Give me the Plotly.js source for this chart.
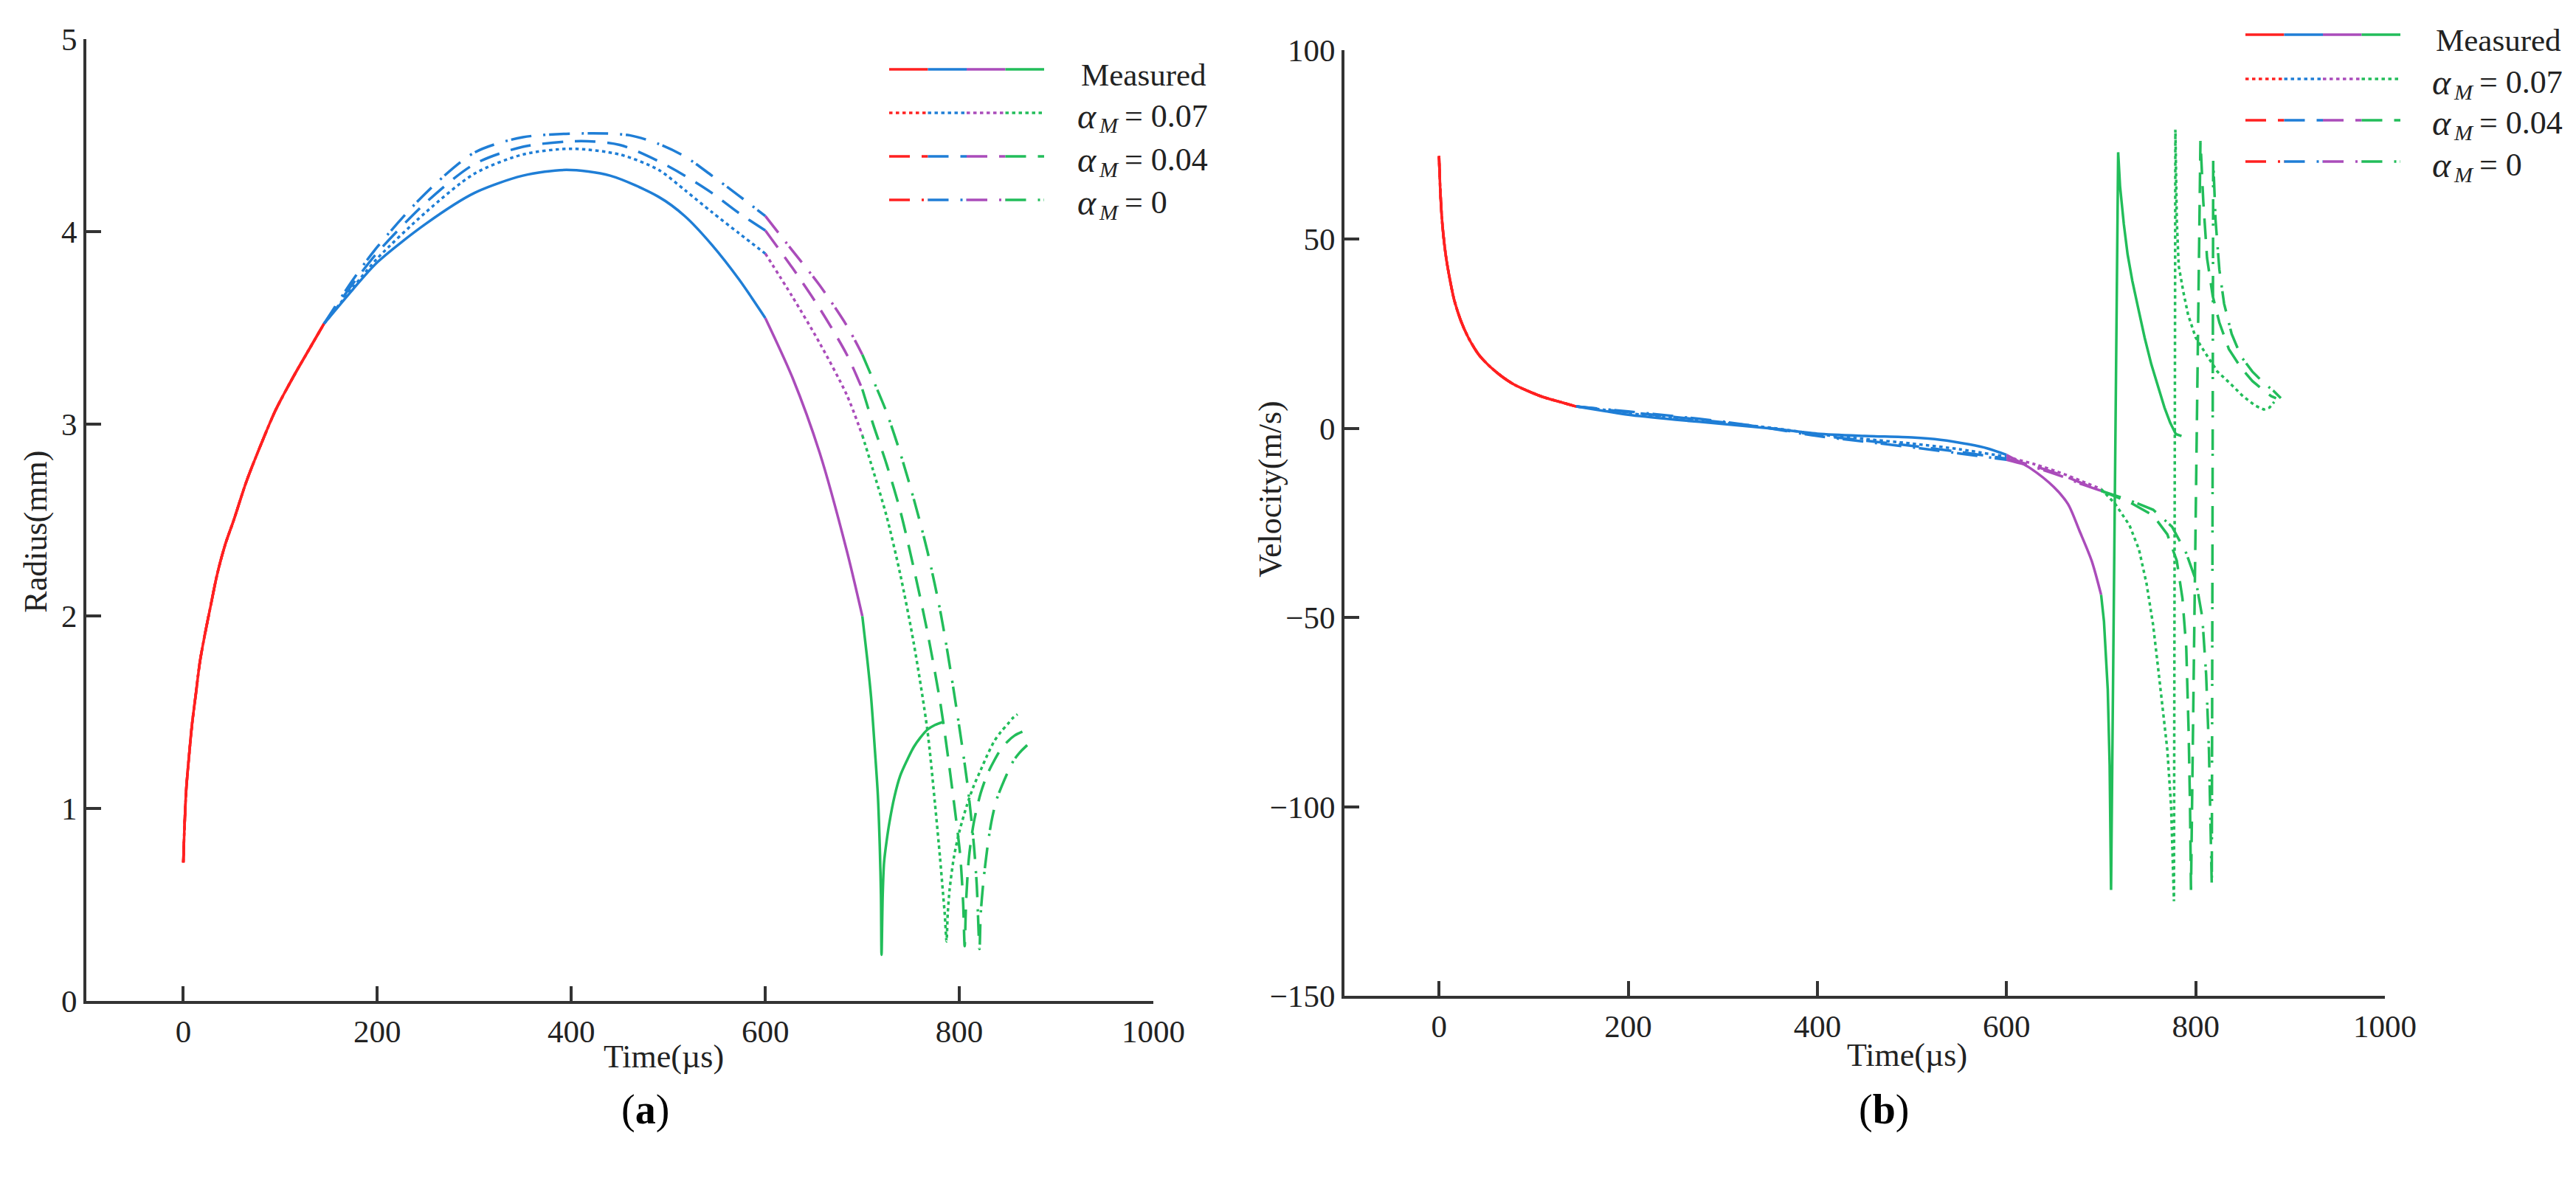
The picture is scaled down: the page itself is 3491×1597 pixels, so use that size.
<!DOCTYPE html>
<html>
<head>
<meta charset="utf-8">
<script src="https://cdn.plot.ly/plotly-3.0.1.min.js"></script>
<style>
  html, body { margin: 0; padding: 0; background: #fff; }
  #chart { width: 3491px; height: 1597px; }
</style>
</head>
<body>
<div id="chart"></div>
<script>
/* -----------------Radius data (panel a)--------------------------------------------*/
// shared early part, same for all runs (red)
var timeEarly = [0, 1, 3, 6, 9, 13, 17, 22, 28, 35, 43, 52, 65, 79, 95, 114, 130, 145];
var radiusEarly = [0.72, 0.88, 1.10, 1.28, 1.44, 1.60, 1.76, 1.90, 2.05, 2.22, 2.37, 2.50, 2.70, 2.88, 3.07, 3.25, 3.39, 3.52];

var timeMeas = [175, 200, 250, 300, 350, 395, 440, 490, 517, 545, 573, 600, 628, 656, 684, 700, 705, 709, 713, 716, 718, 719.2, 719.8, 721, 722.4, 725, 728, 733, 739, 746, 753, 760, 767, 775, 783];
var radiusMeas = [3.70, 3.84, 4.04, 4.20, 4.29, 4.32, 4.29, 4.18, 4.08, 3.93, 3.75, 3.55, 3.24, 2.85, 2.34, 2.00, 1.78, 1.58, 1.30, 1.07, 0.80, 0.55, 0.24, 0.55, 0.72, 0.83, 0.93, 1.06, 1.17, 1.25, 1.32, 1.37, 1.41, 1.435, 1.45];

var timeA07 = [175, 200, 250, 300, 350, 400, 450, 490, 517, 545, 573, 600, 628, 656, 684, 700, 711, 725, 739, 753, 767, 775, 780, 783, 785, 786.8, 788, 790, 794.5, 800, 808, 815, 822, 829, 836, 843, 850, 855, 860];
var radiusA07 = [3.71, 3.86, 4.10, 4.30, 4.40, 4.43, 4.40, 4.32, 4.215, 4.10, 3.99, 3.885, 3.66, 3.42, 3.15, 2.94, 2.76, 2.52, 2.22, 1.86, 1.41, 1.02, 0.75, 0.57, 0.45, 0.31, 0.45, 0.58, 0.75, 0.88, 1.02, 1.12, 1.20, 1.28, 1.35, 1.40, 1.44, 1.47, 1.49];

var timeA04 = [175, 200, 250, 300, 350, 410, 450, 490, 517, 545, 573, 600, 628, 656, 684, 700, 711, 725, 739, 753, 767, 781, 794, 801, 804, 805.5, 807, 810, 815, 822, 829, 836, 843, 850, 857, 865];
var radiusA04 = [3.73, 3.89, 4.15, 4.35, 4.44, 4.47, 4.45, 4.365, 4.29, 4.20, 4.095, 4.005, 3.81, 3.60, 3.36, 3.18, 3.00, 2.79, 2.55, 2.25, 1.92, 1.53, 1.05, 0.75, 0.50, 0.285, 0.52, 0.75, 0.93, 1.08, 1.18, 1.25, 1.31, 1.35, 1.38, 1.40];

var timeA0 = [175, 200, 250, 300, 350, 420, 460, 490, 517, 545, 573, 600, 628, 656, 684, 700, 711, 725, 739, 753, 767, 781, 794, 808, 815, 818, 820.8, 822, 825, 829, 833, 838, 844, 850, 856, 862, 870];
var radiusA0 = [3.75, 3.92, 4.20, 4.41, 4.49, 4.51, 4.50, 4.455, 4.39, 4.29, 4.185, 4.08, 3.90, 3.72, 3.51, 3.36, 3.23, 3.06, 2.85, 2.61, 2.34, 2.01, 1.62, 1.14, 0.81, 0.60, 0.27, 0.45, 0.63, 0.80, 0.93, 1.04, 1.12, 1.19, 1.25, 1.29, 1.33];
/* -----------------------------------------------------------------------------------*/

/* -----------------Velocity data (panel b)-----------------------------------------*/
var vTimeEarly = [0, 1.5, 3.5, 7, 11, 16, 23, 31, 42, 52, 65, 80, 95, 110, 128, 145];
var velEarly = [72, 62, 54, 46, 40, 34, 28.5, 24, 19.5, 16.8, 14, 11.5, 9.8, 8.3, 7, 5.8];

var vTimeMeas = [175, 200, 250, 300, 350, 400, 450, 500, 530, 560, 580, 600, 625, 650, 665, 677, 690, 700, 703, 707, 709, 710.5, 718, 720, 724, 728, 733, 739, 746, 753, 760, 767, 773, 779, 785];
var velMeas = [4.6, 3.6, 2.3, 1.2, 0.0, -1.4, -2.0, -2.4, -3.0, -4.2, -5.3, -7.0, -10.5, -15.5, -20, -27, -35, -44, -51, -69, -89, -122, 73, 64, 54, 46, 39, 32, 24, 17, 11, 5.5, 1.5, -1.5, -2];

var vTimeA07 = [175, 200, 250, 300, 350, 400, 450, 500, 550, 600, 630, 660, 680, 700, 715, 730, 740, 748, 755, 761, 766, 770, 774, 777, 778.5, 780, 782, 787, 792, 800, 810, 823, 836, 850, 863, 872, 878, 883];
var velA07 = [4.9, 4.0, 2.8, 1.5, 0.2, -1.5, -2.8, -4.0, -5.5, -7.5, -9.5, -12, -14, -16, -20, -25.6, -32, -41, -52, -65, -77, -85, -100, -125, 79, 55, 43, 36, 30, 24, 20, 15, 12, 8.5, 6, 5, 5.5, 7];

var vTimeA04 = [175, 200, 250, 300, 350, 400, 450, 500, 550, 600, 630, 660, 680, 700, 730, 755, 770, 780, 786, 790, 792.5, 794, 795, 805, 808, 812, 818, 825, 835, 848, 860, 872, 880, 885];
var velA04 = [5.0, 4.3, 3.0, 1.6, 0.1, -1.8, -3.2, -4.6, -6.2, -8.0, -10, -12.5, -14.5, -16.5, -19.5, -23, -28, -35, -45, -58, -80, -100, -122, 76, 60, 45, 35, 28, 21, 16, 12.5, 10, 8.5, 8];

var vTimeA0 = [175, 200, 250, 300, 350, 400, 450, 500, 550, 600, 630, 660, 680, 700, 730, 755, 775, 790, 800, 807, 811, 814, 816, 817, 818.5, 821, 825, 830, 838, 848, 860, 872, 882, 890];
var velA0 = [5.1, 4.5, 3.2, 1.8, 0.0, -2.0, -3.5, -5.0, -6.6, -8.3, -10.3, -12.8, -14.8, -16.5, -19, -21.5, -26, -33, -40, -50, -65, -85, -105, -121, 71, 55, 42, 33, 25, 19, 15, 12, 10, 8];
/* -----------------------------------------------------------------------------------*/

var xTicks = [0, 200, 400, 600, 800, 1000];
var radiusTicks = [0, 1, 2, 3, 4, 5];
var velTicks = [-150, -100, -50, 0, 50, 100];
var stageEdges = [145, 600, 700];          // colour changes along each curve
var legendNames = ['Measured', '0.07', '0.04', '0'];

var RED = '#ff2020', BLUE = '#1f7ed6', MAGENTA = '#aa4cba', GREEN = '#22bd5a';
var stageColors = [RED, BLUE, MAGENTA, GREEN];
var dashes = ['solid', '4.5px,4.5px', '28px,16px', '28px,16px,3px,5px'];
var FONT = '"Liberation Serif", "Times New Roman", serif';
var W = 3491, H = 1597;

/* ---------------split a curve into its four coloured stages---------------------*/
function stages(t, y) {
  var bounds = [-Infinity].concat(stageEdges).concat([Infinity]);
  var out = [];
  for (var k = 0; k < 4; k++) {
    var xs = [], ys = [];
    for (var i = 0; i < t.length; i++) {
      if (t[i] >= bounds[k] && t[i] <= bounds[k + 1]) {
        xs.push(t[i]);
        ys.push(y[i]);
      }
    }
    out.push({x: xs, y: ys});
  }
  return out;
}

var data = [];
// smoothGreen: the radius cusps stay fine with a spline, the velocity spikes do not
function addCurve(t, y, dash, xa, ya, smoothGreen) {
  var parts = stages(t, y);
  for (var k = 0; k < parts.length; k++) {
    var smooth = (k < 3 || smoothGreen);
    data.push({
      x: parts[k].x,
      y: parts[k].y,
      xaxis: xa,
      yaxis: ya,
      type: 'scatter',
      mode: 'lines',
      hoverinfo: 'skip',
      showlegend: false,
      line: {color: stageColors[k], width: 3.5, dash: dash,
             shape: smooth ? 'spline' : 'linear', smoothing: 0.8}
    });
  }
}

var radiusSeries = [
  [timeEarly.concat(timeMeas), radiusEarly.concat(radiusMeas)],
  [timeEarly.concat(timeA07), radiusEarly.concat(radiusA07)],
  [timeEarly.concat(timeA04), radiusEarly.concat(radiusA04)],
  [timeEarly.concat(timeA0), radiusEarly.concat(radiusA0)]
];
var velSeries = [
  [vTimeEarly.concat(vTimeMeas), velEarly.concat(velMeas)],
  [vTimeEarly.concat(vTimeA07), velEarly.concat(velA07)],
  [vTimeEarly.concat(vTimeA04), velEarly.concat(velA04)],
  [vTimeEarly.concat(vTimeA0), velEarly.concat(velA0)]
];
// simulations first, measured on top
for (var s = 3; s >= 0; s--) {
  addCurve(radiusSeries[s][0], radiusSeries[s][1], dashes[s], 'x', 'y', true);
  addCurve(velSeries[s][0], velSeries[s][1], dashes[s], 'x2', 'y2', false);
}

/* ---------------hand drawn legends (multi coloured keys)---------------------------*/
var shapes = [];
var annotations = [];
function label(px, py, text, size, style) {
  annotations.push({
    xref: 'paper', yref: 'paper',
    x: px / W, y: 1 - py / H,
    xanchor: 'left', yanchor: 'middle',
    text: text, showarrow: false,
    font: {family: FONT, size: size, color: '#222', style: style || 'normal'}
  });
}
function addLegend(x0, rowsY, textX) {
  var seg = 52.5;
  for (var k = 0; k < 4; k++) {
    for (var c = 0; c < 4; c++) {
      shapes.push({
        type: 'line', xref: 'paper', yref: 'paper',
        x0: (x0 + c * seg) / W, x1: (x0 + (c + 1) * seg) / W,
        y0: 1 - rowsY[k] / H, y1: 1 - rowsY[k] / H,
        line: {color: stageColors[c], width: 3.5, dash: dashes[k]}
      });
    }
    if (k === 0) {
      label(textX + 3, rowsY[k] + 7, legendNames[0], 43);
    } else {
      // alpha with italic M subscript, then "= value"
      label(textX - 2, rowsY[k] + 4, 'α', 48, 'italic');
      label(textX + 27, rowsY[k] + 17, 'M', 30, 'italic');
      label(textX + 62, rowsY[k] + 4, '= ' + legendNames[k], 44);
    }
  }
}
addLegend(1205, [94, 153, 212, 271], 1460);
addLegend(3043, [47, 107, 163, 219], 3296);

/* ---------------axis titles and panel labels---------------------------------------*/
var titleFont = {family: FONT, size: 44, color: '#222'};
annotations.push(
  {xref: 'x', yref: 'paper', x: 495, y: 1 - 1432 / H, text: 'Time(µs)', showarrow: false, font: titleFont, yanchor: 'middle'},
  {xref: 'x2', yref: 'paper', x: 495, y: 1 - 1430 / H, text: 'Time(µs)', showarrow: false, font: titleFont, yanchor: 'middle'},
  {xref: 'paper', yref: 'y', x: 49 / W, y: 2.44, text: 'Radius(mm)', textangle: -90, showarrow: false, font: titleFont, xanchor: 'center'},
  {xref: 'paper', yref: 'y2', x: 1722 / W, y: -16, text: 'Velocity(m/s)', textangle: -90, showarrow: false, font: titleFont, xanchor: 'center'},
  {xref: 'paper', yref: 'paper', x: 840 / W, y: 1 - 1538 / H, text: '(<b>a</b>)', showarrow: false, font: {family: FONT, size: 56, color: '#000'}},
  {xref: 'paper', yref: 'paper', x: 2589 / W, y: 1 - 1538 / H, text: '(<b>b</b>)', showarrow: false, font: {family: FONT, size: 56, color: '#000'}}
);

/* ---------------Set Layout and Graph----------------------------------------------*/
function axis(domain, range, ticks, anchor) {
  return {
    domain: domain,
    range: range,
    anchor: anchor,
    tickmode: 'array',
    tickvals: ticks,
    ticks: 'inside',
    ticklen: 20,
    tickwidth: 4,
    tickcolor: '#333',
    showline: true,
    linewidth: 4,
    linecolor: '#333',
    showgrid: false,
    zeroline: false,
    tickfont: {family: FONT, size: 43, color: '#222'}
  };
}

var layout = {
  width: W,
  height: H,
  margin: {l: 0, r: 0, t: 0, b: 0},
  paper_bgcolor: '#fff',
  plot_bgcolor: '#fff',
  showlegend: false,
  xaxis: axis([117 / W, 1563 / W], [-100, 1000], xTicks, 'y'),
  yaxis: axis([1 - 1357 / H, 1 - 53 / H], [0, 5], radiusTicks, 'x'),
  xaxis2: axis([1822 / W, 3232 / W], [-100, 1000], xTicks, 'y2'),
  yaxis2: axis([1 - 1350 / H, 1 - 68 / H], [-150, 100], velTicks, 'x2'),
  shapes: shapes,
  annotations: annotations
};

Plotly.newPlot('chart', data, layout, {displayModeBar: false});
</script>
</body>
</html>
